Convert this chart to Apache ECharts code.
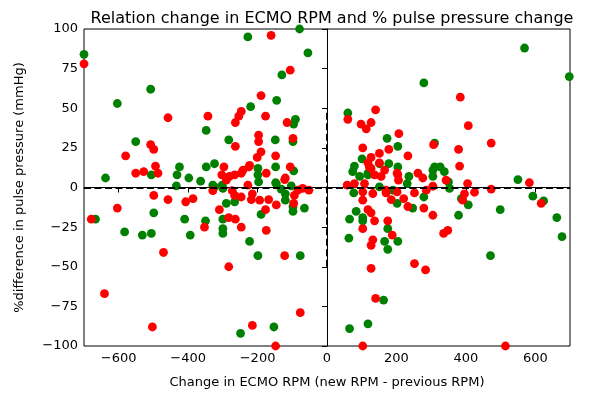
<!DOCTYPE html>
<html>
<head>
<meta charset="utf-8">
<script src="https://cdn.jsdelivr.net/npm/echarts@6/dist/echarts.min.js"></script>
<style>
  html, body { margin: 0; padding: 0; background: #fff; }
  #chart { width: 596px; height: 395px; }
</style>
</head>
<body>
<div id="chart"></div>
<script>
// RPM change vs. % pulse-pressure change, one entry per adjustment
const greenPoints = [
  [-700, 84], [-604, 53], [-508, 62], [-551, 29], [-506, 8], [-638, 6], [-425, 13], [-432, 8],
  [-398, 6], [-434, 1], [-364, 4], [-499, -16], [-667, -20], [-583, -28], [-532, -30], [-506, -29],
  [-410, -20], [-394, -30], [-228, 95], [-79, 100], [-55, 85], [-130, 71], [-145, 55], [-220, 51],
  [-348, 36], [-91, 43], [-96, 40], [-283, 30], [-149, 30], [-98, 29], [-96, 10.5], [-148, 13],
  [-199, 12], [-199, 8], [-146, 2.5], [-348, 13], [-324, 15], [-197, 3.5], [-148, 3], [-103, 1],
  [-132, -1], [-120, -4], [-120, -8], [-65, -13], [-98, -12], [-98, -15], [-190, -17], [-266, -9],
  [-290, -10], [-300, -20], [-300, -26], [-300, -29], [-350, -21], [-329, 1.5], [-302, 1.5], [-324, 0.4],
  [-300, -0.6], [-223, -34], [-199, -43], [-77, -43], [-153, -88], [-249, -92],
  [279, 66], [60, 47], [173, 31], [204, 26], [310, 28], [101, 18], [79, 13.5], [74, 10],
  [151, 15], [178, 15], [204, 13], [236, 7], [305, 11], [326, 13], [338, 10], [305, 7],
  [118, 8], [94, 7], [118, 9], [310, 13], [350, 3.5], [151, 0.4], [190, -1.7], [231, 2.5],
  [353, -0.6], [77, -3.4], [279, -6], [202, -10], [247, -13], [379, -17.5], [387, -7], [407, -11],
  [84, -15], [65, -20], [103, -21], [175, -26], [103, -19], [166, -34], [175, -39], [204, -34],
  [63, -32], [163, -71], [65, -89], [118, -86], [569, 88], [698, 70], [550, 5], [499, -14],
  [471, -43], [593, -5.5], [624, -8.5], [662, -19], [677, -31]
];

const redPoints = [
  [-700, 78], [-458, 44], [-580, 20], [-508, 27], [-499, 24], [-494, 13.5], [-487, 9], [-551, 9],
  [-528, 10], [-499, -5], [-458, -7.6], [-407, -9], [-386, -7], [-679, -20], [-604, -13], [-471, -41],
  [-641, -67], [-503, -88], [-161, 96], [-106, 74], [-190, 58], [-247, 48], [-254, 45], [-264, 41],
  [-343, 45], [-177, 45], [-115, 41], [-264, 26], [-197, 33], [-197, 29], [-98, 31], [-190, 22.5],
  [-201, 19], [-148, 20], [-106, 13], [-175, 9], [-120, 6], [-297, 13], [-303, 8], [-281, 7],
  [-266, 8], [-247, 9], [-225, 13], [-223, 14], [-242, 11], [-290, 4.6], [-122, 5], [-94, -5],
  [-70, -0.6], [-52, -1.7], [-84, -1.7], [-146, -11], [-168, -7.6], [-177, -14], [-194, -8], [-218, -7.6],
  [-215, -4], [-228, 1.5], [-247, -6], [-266, -5], [-310, -14], [-283, -19], [-264, -20], [-247, -25],
  [-175, -27], [-353, -25], [-329, -2], [-273, -2], [-96, -10], [-283, -50], [-122, -43], [-77, -79],
  [-215, -87], [-148, -100],
  [60, 43], [140, 49], [98, 40], [113, 37], [127, 41], [207, 34], [178, 24], [233, 20],
  [103, 25], [307, 27], [127, 19], [151, 21.5], [122, 13], [204, 8], [262, 9], [276, 6],
  [343, 4.6], [137, 8], [156, 7], [407, 39], [379, 24], [382, 13.5], [118, 15.5], [151, 15.5],
  [127, 12], [166, 11], [202, 9], [206, 4.6], [405, 2.5], [305, 0.8], [58, 1.5], [79, 2.5],
  [108, 2.5], [286, -1.7], [170, -1.7], [103, -2.8], [132, -3.8], [170, -3.4], [202, -2.8], [221, -7],
  [252, -3.4], [185, -7.6], [233, -12], [279, -13], [305, -17.5], [391, -8], [103, -8], [118, -14],
  [127, -16], [137, -21], [175, -21], [103, -26], [188, -30], [132, -33], [127, -36.5], [127, -51],
  [252, -48], [284, -52], [140, -70], [103, -100], [336, -29], [348, -27], [384, 57], [473, 28],
  [473, -1], [583, 3], [396, -4], [425, -3], [617, -10], [514, -100]
];

// Axis ranges and ticks
const xRange = [-700, 700];
const xTicks = [-600, -400, -200, 0, 200, 400, 600];
const yRange = [-100, 100];
const yTickStep = 25;

// Reference lines: zero change in pressure (horizontal), zero change in RPM (vertical)
const zeroPressureX = [-700, 700];
const zeroRpmY = [-50, 50];

const FONT = 'DejaVu Sans';
const minus = v => String(v).replace('-', '\u2212');
const dashStyle = { color: '#000', width: 2, type: [7, 3.5] };

const chart = echarts.init(document.getElementById('chart'), null, { renderer: 'canvas' });

chart.setOption({
  animation: false,
  backgroundColor: '#ffffff',
  title: {
    text: 'Relation change in ECMO RPM and % pulse pressure change',
    left: 327,
    textAlign: 'center',
    top: 6,
    textStyle: { fontFamily: FONT, fontSize: 16, fontWeight: 'normal', color: '#000' }
  },
  grid: {
    left: 84, right: 26, top: 29, bottom: 49,
    show: true, borderColor: '#000', borderWidth: 1, backgroundColor: 'transparent'
  },
  xAxis: {
    type: 'value',
    min: xRange[0], max: xRange[1],
    name: 'Change in ECMO RPM (new RPM - previous RPM)',
    nameLocation: 'middle',
    nameGap: 30,
    nameTextStyle: { fontFamily: FONT, fontSize: 13, color: '#000' },
    axisLine: { show: true, lineStyle: { color: '#000', width: 1 } },
    axisTick: { show: true, length: 5, lineStyle: { color: '#000' }, customValues: xTicks },
    axisLabel: {
      customValues: xTicks,
      fontFamily: FONT, fontSize: 13, color: '#000', margin: 6,
      formatter: minus
    },
    splitLine: { show: false }
  },
  yAxis: {
    type: 'value',
    min: yRange[0], max: yRange[1], interval: yTickStep,
    name: '%difference in pulse pressure (mmHg)',
    nameLocation: 'middle',
    nameGap: 58,
    nameTextStyle: { fontFamily: FONT, fontSize: 13, color: '#000' },
    axisLine: { show: true, lineStyle: { color: '#000', width: 1 } },
    axisTick: { show: true, length: 5, lineStyle: { color: '#000' } },
    axisLabel: { fontFamily: FONT, fontSize: 13, color: '#000', margin: 6, formatter: minus },
    splitLine: { show: false }
  },
  series: [
    {
      type: 'scatter',
      data: greenPoints,
      symbolSize: 8.8,
      itemStyle: { color: '#008000', opacity: 1 },
      z: 2
    },
    {
      type: 'scatter',
      data: redPoints,
      symbolSize: 8.8,
      itemStyle: { color: '#ff0000', opacity: 1 },
      z: 2,
      markLine: {
        silent: true,
        symbol: 'none',
        label: { show: false },
        lineStyle: dashStyle,
        z: 5,
        data: [
          [{ coord: [zeroPressureX[0], 0] }, { coord: [zeroPressureX[1], 0] }],
          [{ coord: [0, zeroRpmY[0]] }, { coord: [0, zeroRpmY[1]] }]
        ]
      }
    }
  ]
});
</script>
</body>
</html>
